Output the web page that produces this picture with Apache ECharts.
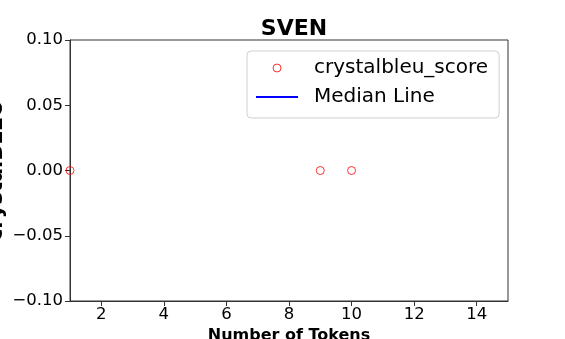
<!DOCTYPE html>
<html>
<head>
<meta charset="utf-8">
<script src="https://cdn.jsdelivr.net/npm/echarts@6/dist/echarts.min.js"></script>
<style>
html,body{margin:0;padding:0;background:#fff;}
#chart{width:565px;height:339px;}
</style>
</head>
<body>
<div id="chart"></div>
<script>
// Data
const tokenCounts = [1, 9, 10];
const crystalbleuScores = [0.0, 0.0, 0.0];
const medianLine = [];
const xTicks = [2, 4, 6, 8, 10, 12, 14];
const yTicks = [-0.1, -0.05, 0, 0.05, 0.1];
const titleText = 'SVEN';
const seriesNames = ['crystalbleu_score', 'Median Line'];

const FONT = 'DejaVu Sans';
const chart = echarts.init(document.getElementById('chart'), null, {renderer: 'canvas'});
const option = {
  animation: false,
  backgroundColor: '#fff',
  title: {
    text: titleText,
    left: 289,
    textAlign: 'center',
    top: 13,
    textStyle: {fontFamily: FONT, fontWeight: 'bold', fontSize: 22, color: '#000'}
  },
  grid: {
    left: 70, right: 57, top: 40, bottom: 38,
    outerBoundsMode: 'none',
    containLabel: false,
    show: true, borderColor: '#333', borderWidth: 1, backgroundColor: 'transparent'
  },
  legend: {
    orient: 'vertical',
    left: 247, top: 51,
    padding: [7, 11, 11, 8],
    itemGap: 9,
    itemWidth: 42, itemHeight: 8,
    backgroundColor: '#fff',
    borderColor: '#d0d0d0', borderWidth: 1, borderRadius: 4,
    textStyle: {fontFamily: FONT, fontSize: 20, color: '#000', padding: [0, 0, 0, 11]},
    data: [
      {name: seriesNames[0], icon: 'circle',
       itemStyle: {color: 'rgba(0,0,0,0)', borderColor: '#ff0000', borderWidth: 1}},
      {name: seriesNames[1],
       itemStyle: {color: 'rgba(0,0,0,0)', borderColor: 'rgba(0,0,0,0)', borderWidth: 0},
       lineStyle: {color: '#0000ff', width: 2}}
    ]
  },
  xAxis: {
    type: 'value',
    min: 1, max: 15,
    name: 'Number of Tokens',
    nameLocation: 'middle',
    nameGap: 27,
    nameMoveOverlap: false,
    nameTextStyle: {fontFamily: FONT, fontWeight: 'bold', fontSize: 16, color: '#000'},
    axisLine: {show: true, onZero: false, lineStyle: {color: '#333', width: 1}},
    axisTick: {show: true, inside: false, length: 5, lineStyle: {color: '#333'}, customValues: xTicks},
    axisLabel: {fontFamily: FONT, fontSize: 16.5, color: '#000', margin: 5, customValues: xTicks},
    splitLine: {show: false}
  },
  yAxis: {
    type: 'value',
    min: -0.1, max: 0.1, interval: 0.05,
    name: 'crystalBLEU',
    nameLocation: 'middle',
    nameGap: 63,
    nameMoveOverlap: false,
    nameTextStyle: {fontFamily: FONT, fontWeight: 'bold', fontSize: 21, color: '#000'},
    axisLine: {show: true, onZero: false, lineStyle: {color: '#333', width: 1}},
    axisTick: {show: true, inside: false, length: 5, lineStyle: {color: '#333'}, customValues: yTicks},
    axisLabel: {
      fontFamily: FONT, fontSize: 16.5, color: '#000', margin: 7, customValues: yTicks,
      formatter: v => v.toFixed(2).replace('-', '\u2212').replace(/^\u22120\.00$/, '0.00')
    },
    splitLine: {show: false}
  },
  series: [
    {
      name: seriesNames[0],
      type: 'scatter',
      symbol: 'circle',
      symbolSize: 8,
      clip: true,
      itemStyle: {color: 'rgba(0,0,0,0)', borderColor: '#ff0000', borderWidth: 1},
      data: tokenCounts.map((x, i) => [x, crystalbleuScores[i]])
    },
    {
      name: seriesNames[1],
      type: 'line',
      symbol: 'none',
      lineStyle: {color: '#0000ff', width: 2},
      itemStyle: {color: '#0000ff'},
      data: medianLine
    }
  ]
};
chart.setOption(option);
</script>
</body>
</html>
